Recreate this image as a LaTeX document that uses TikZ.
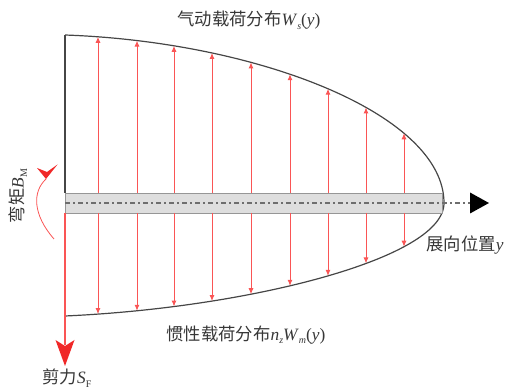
\documentclass[tikz,border=0pt]{standalone}
\usepackage{fontspec}
\setmainfont{Liberation Serif}
\newfontfamily\cjk{Noto Sans CJK SC}
\usetikzlibrary{arrows.meta}
\definecolor{lred}{RGB}{250,85,85}
\definecolor{hred}{RGB}{240,40,40}
\definecolor{curvegray}{RGB}{70,70,70}
\definecolor{bargray}{RGB}{222,222,222}
\definecolor{baredge}{RGB}{150,150,150}
\definecolor{axisgray}{RGB}{110,110,110}
\definecolor{txt}{RGB}{55,55,55}
\newcommand\subsc[1]{\raisebox{-0.45ex}{\fontsize{7.5}{7.5}\selectfont #1}}
\begin{document}
\begin{tikzpicture}[x=0.75pt,y=-0.75pt,
  load/.style={draw=lred, line width=0.75pt, -{Latex[length=4.5pt,width=3.8pt]}},
  outline/.style={draw=curvegray, line width=0.9pt},
  lbl/.style={text=txt, inner sep=0pt, font=\fontsize{13}{14}\selectfont}]
\useasboundingbox (0,0) rectangle (507,391);
% outline curves
\draw[outline] plot[domain=0:90, samples=90, variable=\t] ({65+379*sin(\t)}, {203-168*(1-0.08*sin(\t))*cos(\t)});
\draw[outline] plot[domain=0:90, samples=90, variable=\t] ({65+379*sin(\t)}, {203+113*(1-0.15*sin(\t))*cos(\t)});
% left edge
\coordinate (root) at (65,35);
\coordinate (bartop) at (65,193);
\coordinate (barbot) at (65,213);
\coordinate (sf) at (65,366);
\draw[draw=curvegray, line width=1pt] (root) -- (bartop);
% bar
\node[draw=baredge, fill=bargray, line width=0.8pt, minimum width=377*0.75pt, minimum height=20*0.75pt, inner sep=0pt, anchor=north west] (bar) at (65,193) {};
% axis
\coordinate (axs) at (65,203);
\coordinate (axe) at (489,203);
\draw[draw=axisgray, line width=1pt, dash pattern=on 3.75pt off 2.25pt on 1.5pt off 2.25pt] (axs) -- (470,203);
\fill[black] (470,192.5) -- (axe) -- (470,213.5) -- cycle;
% loads
\foreach \x [count=\i] in {98, 137, 174, 212, 251, 290, 328, 366, 404} {
  \pgfmathsetmacro{\u}{(\x-65)/379}
  \pgfmathsetmacro{\t}{203-168*(1-0.08*\u)*sqrt(1-\u*\u)}
  \pgfmathsetmacro{\b}{203+113*(1-0.15*\u)*sqrt(1-\u*\u)}
  \coordinate (u\i) at (\x,193);
  \coordinate (ut\i) at (\x,\t);
  \coordinate (d\i) at (\x,213);
  \coordinate (dt\i) at (\x,\b);
  \draw[load] (u\i) -- (ut\i);
  \draw[load] (d\i) -- (dt\i);
}
% shear
\draw[draw=lred, line width=1pt] (barbot) -- (65,345);
\fill[hred] (55.5,340) -- (65,346) -- (74.5,340) -- (sf) -- cycle;
% moment
\coordinate (mstart) at (54,239);
\coordinate (mend) at (46,179);
\draw[draw=lred, line width=0.6pt] (mstart) .. controls (33,215) and (32,192) .. (mend);
\fill[hred] (37,168) -- (47,172) -- (57.5,164.5) -- (mend) -- cycle;
% labels
\node[lbl] (ws) at (249,20) {{\cjk 气动载荷分布}\textit{W}\subsc{\textit{s}}(\textit{y})};
\node[lbl] (wm) at (246,335) {{\cjk 惯性载荷分布}\textit{n}\subsc{\textit{z}}\textit{W}\subsc{\textit{m}}(\textit{y})};
\node[lbl] (span) at (465,245) {{\cjk 展向位置}\textit{y}};
\node[lbl] (shear) at (67,378) {{\cjk 剪力}\textit{S}\subsc{F}};
\node[lbl, rotate=90] (bend) at (18,196) {{\cjk 弯矩}\textit{B}\subsc{M}};
\end{tikzpicture}
\end{document}
